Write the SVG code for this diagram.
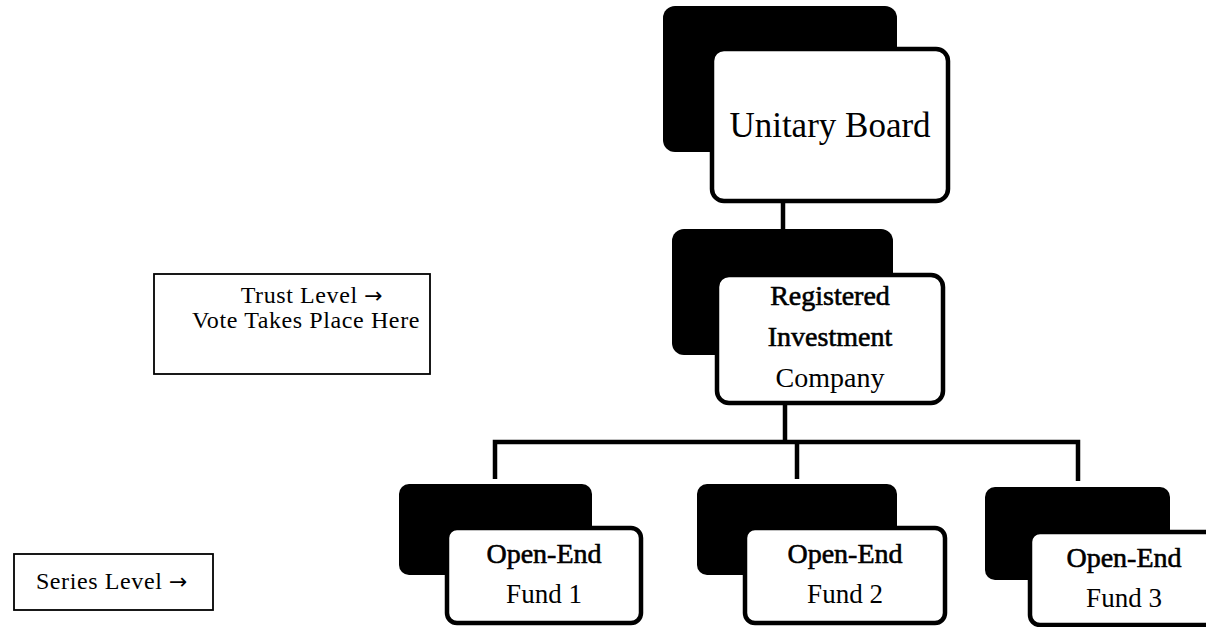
<svg xmlns="http://www.w3.org/2000/svg" width="1206" height="627" viewBox="0 0 1206 627">
<style>
.bk{fill:#000;}
.wt{fill:#fff;stroke:#000;stroke-width:4.5;}
.lbl{fill:#fff;stroke:#000;stroke-width:1.8;}
.t{font-family:"Liberation Serif","Times New Roman",serif;fill:#000;text-anchor:middle;}
.b{stroke:#000;stroke-width:0.6;}
.g{font-family:"Liberation Serif","Times New Roman",serif;fill:#000;text-anchor:middle;font-size:24px;letter-spacing:0.6px;}
.ar{font-family:"DejaVu Sans",sans-serif;font-size:22px;}
.c{fill:none;stroke:#000;stroke-width:4.5;}
</style>
<rect width="1206" height="627" fill="#fff"/>
<g id="connectors">
<line class="c" x1="783" y1="203" x2="783" y2="231"/>
<line class="c" x1="785" y1="405" x2="785" y2="442"/>
<polyline class="c" points="495,479 495,442 1078,442 1078,481"/>
<line class="c" x1="797" y1="442" x2="797" y2="479"/>
</g>
<g id="unitary-board">
<rect class="bk" x="663" y="6" width="234" height="146" rx="12"/>
<rect class="wt" x="712" y="49" width="236" height="152" rx="12"/>
<text class="t" x="830" y="137" font-size="35">Unitary Board</text>
</g>
<g id="ric">
<rect class="bk" x="672" y="229" width="221" height="126" rx="12"/>
<rect class="wt" x="717" y="275" width="226" height="128" rx="12"/>
<text class="t b" x="830" y="305" font-size="28">Registered</text>
<text class="t b" x="830" y="346" font-size="28">Investment</text>
<text class="t" x="830" y="387" font-size="28">Company</text>
</g>
<g id="fund1">
<rect class="bk" x="399" y="484" width="193" height="91" rx="10"/>
<rect class="wt" x="447" y="528" width="194" height="95" rx="10"/>
<text class="t b" x="544" y="563" font-size="28">Open-End</text>
<text class="t" x="544" y="603" font-size="27">Fund 1</text>
</g>
<g id="fund2">
<rect class="bk" x="697" y="484" width="200" height="91" rx="10"/>
<rect class="wt" x="745" y="528" width="200" height="95" rx="10"/>
<text class="t b" x="845" y="563" font-size="28">Open-End</text>
<text class="t" x="845" y="603" font-size="27">Fund 2</text>
</g>
<g id="fund3">
<rect class="bk" x="985" y="487" width="185" height="93" rx="10"/>
<rect class="wt" x="1030" y="532" width="190" height="93" rx="10"/>
<text class="t b" x="1124" y="567" font-size="28">Open-End</text>
<text class="t" x="1124" y="607" font-size="27">Fund 3</text>
</g>
<g id="trust-level">
<rect class="lbl" x="154" y="274" width="276" height="100"/>
<text class="g" x="312" y="303">Trust Level <tspan class="ar">→</tspan></text>
<text class="g" x="306" y="328">Vote Takes Place Here</text>
</g>
<g id="series-level">
<rect class="lbl" x="14" y="554" width="199" height="56"/>
<text class="g" x="112" y="589">Series Level <tspan class="ar">→</tspan></text>
</g>
</svg>
